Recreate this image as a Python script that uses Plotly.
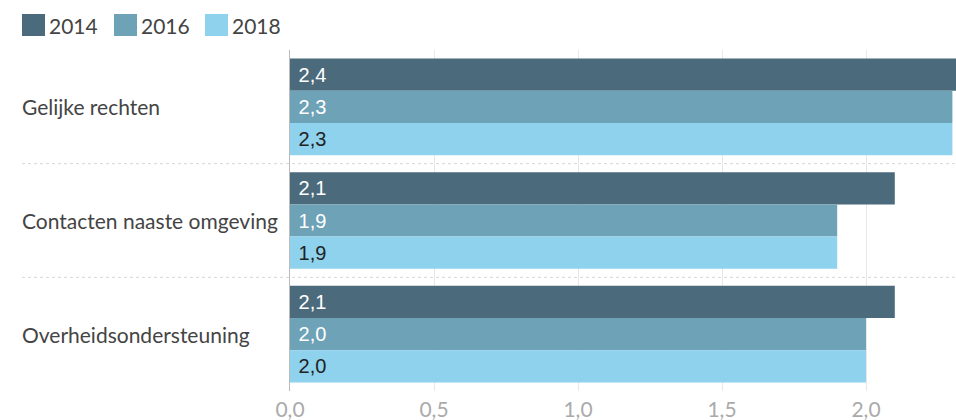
import plotly.graph_objects as go

categories = ["Gelijke rechten", "Contacten naaste omgeving", "Overheidsondersteuning"]
years = ["2014", "2016", "2018"]
values_2014 = [2.4, 2.1, 2.1]
values_2016 = [2.3, 1.9, 2.0]
values_2018 = [2.3, 1.9, 2.0]
series = [values_2014, values_2016, values_2018]
colors = ["#4B6B7C", "#6EA2B7", "#8ED2EE"]
text_colors = ["#ffffff", "#ffffff", "#222222"]
x_ticks = [0, 0.5, 1.0, 1.5, 2.0]

W, H = 956, 420
P_LEFT, P_RIGHT, P_TOP, P_BOTTOM = 290, 956, 50, 391
ml = P_LEFT
mr = W - P_RIGHT
mt = P_TOP
mb = H - P_BOTTOM
pw = P_RIGHT - P_LEFT
ph = P_BOTTOM - P_TOP

def px_x(p):
    return (p - P_LEFT) / pw

def px_y(p):
    return (P_BOTTOM - p) / ph

fig = go.Figure()
for yr, vals, col, tc in zip(years, series, colors, text_colors):
    fig.add_trace(go.Bar(
        y=categories, x=vals, name=yr, orientation="h",
        marker=dict(color=col, line=dict(width=0)),
        texttemplate="\u00a0%{x:.1f}", textposition="inside", insidetextanchor="start",
        textfont=dict(family="Liberation Sans", size=20, color=tc),
        hoverinfo="skip",
    ))

annotations = []
shapes = []
for c in categories:
    annotations.append(dict(
        x=px_x(22), xref="paper", y=c, yref="y", text=c, showarrow=False,
        xanchor="left", yanchor="middle", xshift=-2,
        font=dict(family="Lato", size=21, color="#444444"),
    ))
for b in [0.5, 1.5]:
    shapes.append(dict(
        type="line", xref="paper", yref="y", x0=px_x(22), x1=1, y0=b, y1=b,
        line=dict(color="#d6d6d6", width=1, dash="dot"), layer="below",
    ))
leg_x = [22, 114, 205]
for lx, yr, col in zip(leg_x, years, colors):
    shapes.append(dict(
        type="rect", xref="paper", yref="paper",
        x0=px_x(lx), x1=px_x(lx + 23), y0=px_y(36), y1=px_y(14),
        fillcolor=col, line=dict(width=0),
    ))
    annotations.append(dict(
        x=px_x(lx + 25), xref="paper", y=px_y(25), yref="paper", text=yr,
        showarrow=False, xanchor="left", yanchor="middle",
        font=dict(family="Lato", size=21, color="#444444"),
    ))

fig.update_layout(
    width=W, height=H,
    margin=dict(l=ml, r=mr, t=mt, b=mb),
    paper_bgcolor="white", plot_bgcolor="white",
    barmode="group", bargap=0.15, bargroupgap=0,
    separators=",.",
    showlegend=False,
    hovermode=False,
    font=dict(family="Lato"),
    xaxis=dict(
        range=[0, 2.3125], tickvals=x_ticks, tickformat=".1f",
        showgrid=True, gridcolor="#e8e8e8", gridwidth=1, zeroline=False,
        tickfont=dict(family="Lato", size=21, color="#aaaaaa"),
        ticks="", ticklabelstandoff=4, fixedrange=True,
    ),
    yaxis=dict(
        autorange="reversed", showticklabels=False, showgrid=False,
        showline=True, linecolor="#bbbbbb", linewidth=1, ticks="", fixedrange=True,
    ),
    annotations=annotations, shapes=shapes,
)

fig.write_html(
    "out.html",
    config={"displayModeBar": False, "staticPlot": True},
    post_script="document.body.style.margin='0';document.body.style.overflow='hidden';",
)
